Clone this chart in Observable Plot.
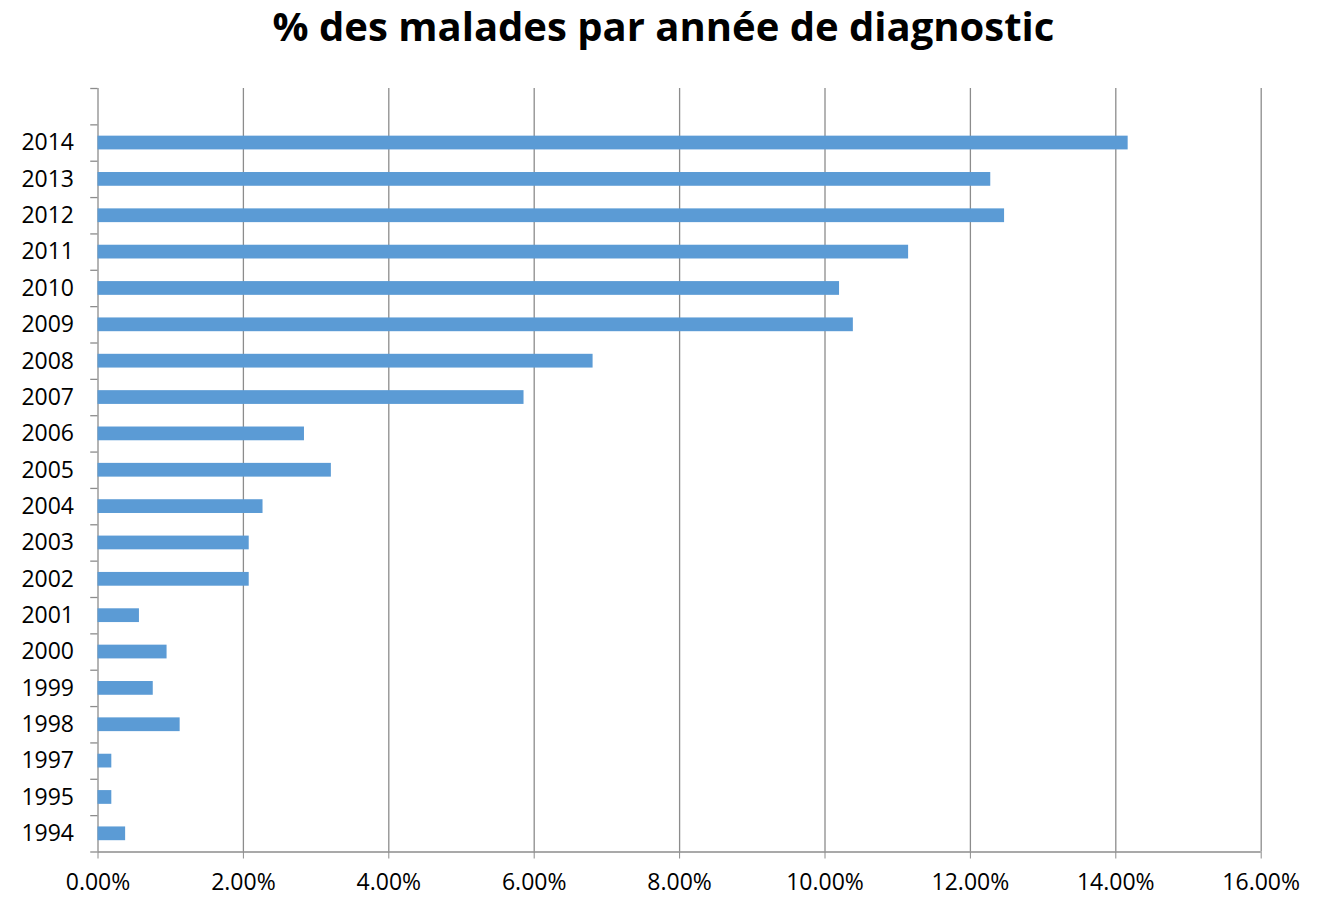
<!DOCTYPE html>
<html>
<head>
<meta charset="utf-8">
<script src="https://cdn.jsdelivr.net/npm/d3@7"></script>
<script src="https://cdn.jsdelivr.net/npm/@observablehq/plot@0.6"></script>
<style>
  html, body { margin: 0; padding: 0; background: #fff; }
  #wrap { position: relative; width: 1327px; height: 899px; }
  #title { position: absolute; left: 0; top: 0; width: 1327px; text-align: center;
           font-family: "Open Sans", sans-serif; font-weight: 700; font-size: 40px;
           line-height: 52px; color: #000; }
  #chart { position: absolute; left: 0; top: 0; }
</style>
</head>
<body>
<div id="wrap">
  <div id="chart"></div>
  <div id="title">% des malades par année de diagnostic</div>
</div>
<script>
const years = ["2014","2013","2012","2011","2010","2009","2008","2007","2006","2005","2004","2003","2002","2001","2000","1999","1998","1997","1995","1994"];
const percents = [14.17,12.28,12.47,11.15,10.20,10.39,6.81,5.86,2.84,3.21,2.27,2.08,2.08,0.57,0.95,0.76,1.13,0.19,0.19,0.38];
const xTicks = [0,2,4,6,8,10,12,14,16];

const data = years.map((y, i) => ({year: y, value: percents[i]}));
const yDomain = [" ", ...years];

const W = 1327, H = 899, mt = 88, mb = 47.5, ml = 97.5, mr = 66.3;
const bw = (H - mt - mb) / yDomain.length;
const gray = "#8c8c8c";

const chart = Plot.plot({
  width: W,
  height: H,
  marginTop: mt,
  marginBottom: mb,
  marginLeft: ml,
  marginRight: mr,
  style: {fontFamily: "'Open Sans', sans-serif", fontSize: "23px", color: "#000", background: "#fff"},
  x: {domain: [0, 16], label: null},
  y: {domain: yDomain, padding: 0, round: false, label: null},
  marks: [
    Plot.gridX(xTicks, {stroke: gray, strokeOpacity: 1, strokeWidth: 1.3}),
    Plot.ruleY(yDomain, {y: d => d, x1: -0.1, x2: 0, dy: -bw / 2, stroke: gray, strokeWidth: 1.3}),
    Plot.ruleY([years[years.length - 1]], {y: d => d, x1: -0.1, x2: 0, dy: bw / 2, stroke: gray, strokeWidth: 1.3}),
    Plot.ruleY([years[years.length - 1]], {y: d => d, x1: 0, x2: 16, dy: bw / 2, stroke: gray, strokeWidth: 1.3}),
    Plot.barX(data, {y: "year", x: "value", fill: "#5b9bd5", insetTop: 11.3, insetBottom: 11.3}),
    Plot.axisX({ticks: xTicks, tickFormat: d => d.toFixed(2) + "%", tickSize: 7, tickPadding: 15,
                stroke: gray, fill: "#000", fontSize: 23, label: null}),
    Plot.axisY({tickSize: 0, tickPadding: 24, fill: "#000", fontSize: 23, label: null,
                tickFormat: d => d.trim()})
  ]
});
document.getElementById("chart").appendChild(chart);
</script>
</body>
</html>
